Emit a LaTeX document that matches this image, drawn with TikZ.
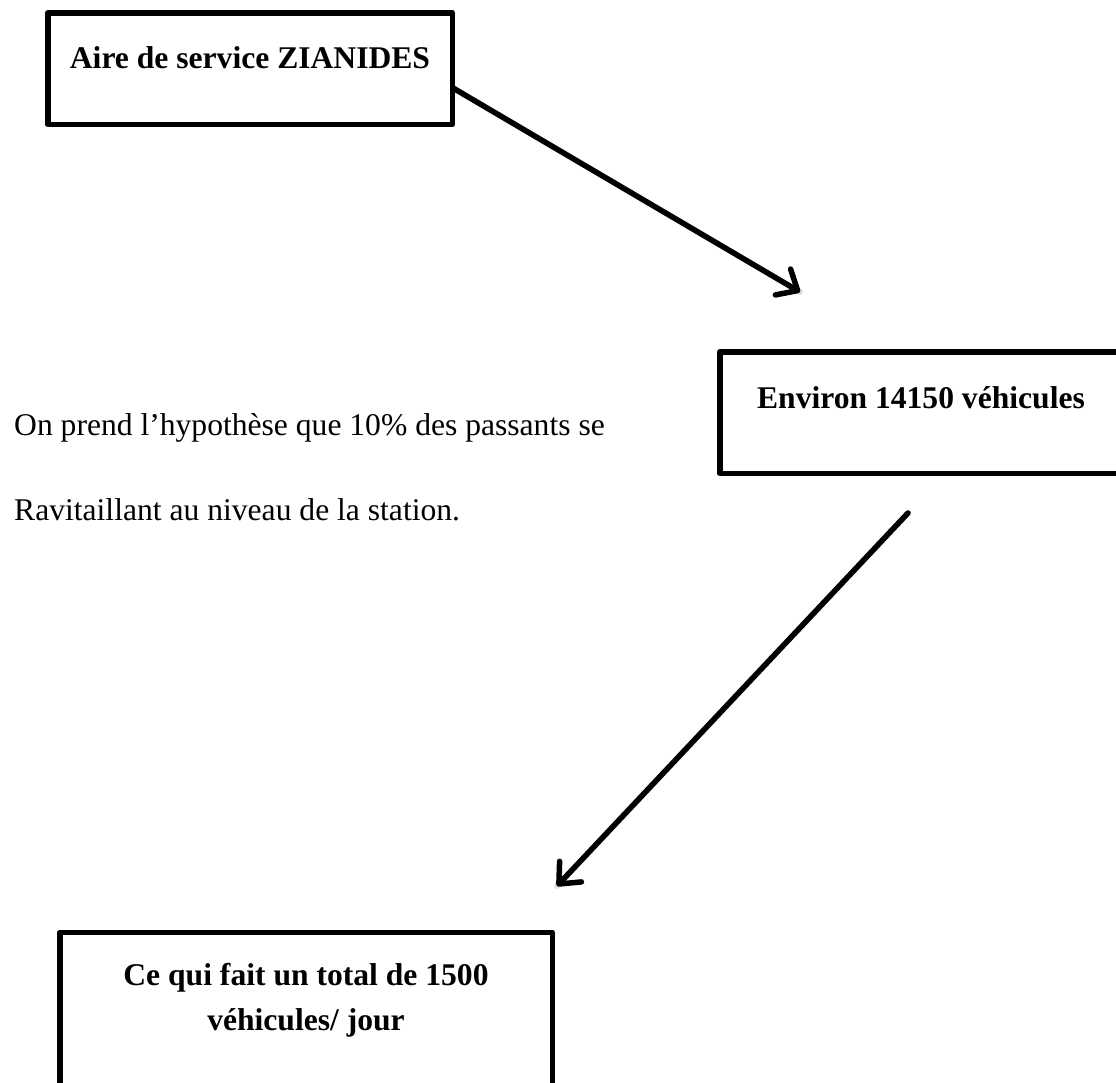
\documentclass[tikz,border=0pt]{standalone}
\usepackage{fontspec}
\setmainfont{Liberation Serif}
\usetikzlibrary{arrows.meta}
\begin{document}
\begin{tikzpicture}[x=1pt,y=-1pt,
  boxst/.style={draw, line width=5.5pt, rectangle, inner sep=0pt, line join=round},
  lbl/.style={font=\fontsize{31.6}{38}\selectfont\bfseries, anchor=base, inner sep=0pt},
  bodytxt/.style={font=\fontsize{31.6}{38}\selectfont, anchor=base west, inner sep=0pt},
  arr/.style={line width=5.5pt, line cap=round,
    -{Straight Barb[length=17pt,width=30pt,line cap=round,line join=round]}},
  shad/.style={line width=6pt, line cap=round, draw=black, opacity=0.12}]
\useasboundingbox (0,0) rectangle (1116,1082);
\clip (0,0) rectangle (1116,1082);
\fill[white] (0,0) rectangle (1116,1082);

% boxes
\node[boxst, minimum width=404.5pt, minimum height=111.5pt] (b1) at (250,68.5) {};
\node[boxst, minimum width=402.5pt, minimum height=121.5pt] (b2) at (921,412.5) {};
\node[boxst, minimum width=492.5pt, minimum height=177pt] (b3) at (306,1021) {};

% box texts
\node[lbl] (t1) at (250,68) {Aire de service ZIANIDES};
\node[lbl] (t2) at (921,408) {Environ 14150 véhicules};
\node[lbl] (t3a) at (306,985) {Ce qui fait un total de 1500};
\node[lbl] (t3b) at (306,1030) {véhicules/ jour};

% body text
\node[bodytxt] (p1) at (14,435) {On prend l’hypothèse que 10\% des passants se};
\node[bodytxt] (p2) at (14,520) {Ravitaillant au niveau de la station.};

% arrows
\coordinate (a1s) at (453,88);
\coordinate (a1e) at (800,292);
\coordinate (a2s) at (908,513);
\coordinate (a2e) at (557,886);
\draw[shad, shift={(2pt,-4pt)}] (a1s) -- (a1e);
\draw[shad, shift={(3pt,-3pt)}] (a2s) -- (a2e);
\draw[arr] (a1s) -- (a1e);
\draw[arr] (a2s) -- (a2e);
\end{tikzpicture}
\end{document}
